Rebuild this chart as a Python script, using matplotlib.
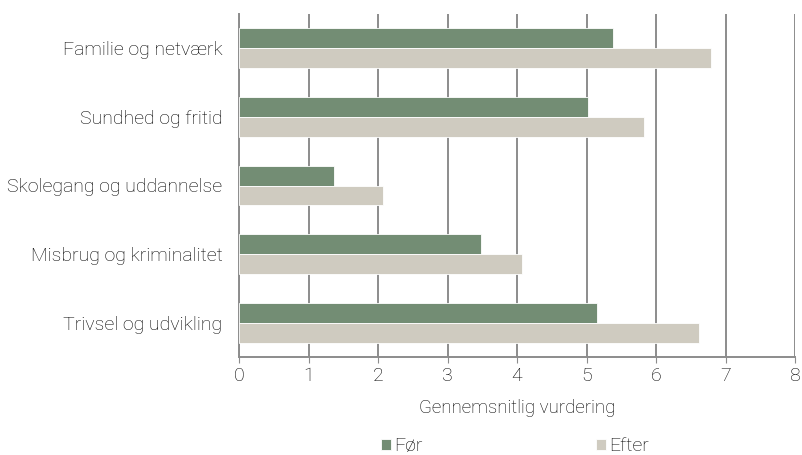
import matplotlib.pyplot as plt
import numpy as np

categories = ["Familie og netværk", "Sundhed og fritid", "Skolegang og uddannelse",
              "Misbrug og kriminalitet", "Trivsel og udvikling"]
foer = [5.38, 5.02, 1.36, 3.48, 5.15]
efter = [6.79, 5.83, 2.07, 4.07, 6.62]
xticks = [0, 1, 2, 3, 4, 5, 6, 7, 8]

plt.rcParams['font.family'] = ['Roboto', 'DejaVu Sans']
plt.rcParams['font.weight'] = 'light'
plt.rcParams['axes.labelweight'] = 'light'
plt.rcParams['text.color'] = '#000000'
plt.rcParams['xtick.labelcolor'] = '#000000'
plt.rcParams['ytick.labelcolor'] = '#000000'
plt.rcParams['axes.labelcolor'] = '#000000'

fig = plt.figure(figsize=(8.02, 4.55), dpi=100)
ax = fig.add_axes([239 / 802, 1 - 357 / 455, 556 / 802, 343 / 455])

y = np.arange(len(categories))
h = 0.29
ax.barh(y - h / 2, foer, height=h, color='#738d74', edgecolor='white', linewidth=0.6, label='Før', zorder=3)
ax.barh(y + h / 2, efter, height=h, color='#cfcbc0', edgecolor='white', linewidth=0.6, label='Efter', zorder=3)

ax.set_xlim(0, 8)
ax.set_ylim(len(categories) - 0.5, -0.5)
ax.set_xticks(xticks)
ax.set_yticks(y)
ax.set_yticklabels(categories, fontsize=14)
ax.tick_params(axis='y', length=0, pad=12)
ax.tick_params(axis='x', length=4, color='#8c8c8c', labelsize=14, pad=3)
ax.xaxis.grid(True, color='#8c8c8c', linewidth=1.4, zorder=0)
ax.set_axisbelow(True)
for s in ['top', 'right']:
    ax.spines[s].set_visible(False)
for s in ['left', 'bottom']:
    ax.spines[s].set_color('#8c8c8c')
    ax.spines[s].set_linewidth(1.4)
ax.set_xlabel('Gennemsnitlig vurdering', fontsize=13.5, labelpad=10)

fig.legend(loc='center', bbox_to_anchor=(515 / 802, 1 - 446 / 455), ncol=2, frameon=False,
           fontsize=14, handlelength=0.5, handleheight=0.5, handletextpad=0.2,
           columnspacing=8.9)

fig.savefig('out.png', dpi=100)
